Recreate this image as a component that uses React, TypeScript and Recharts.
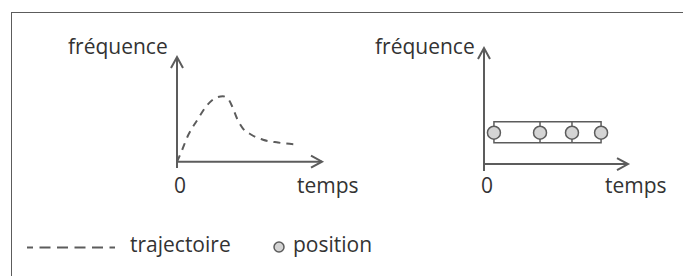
import React from 'react';
import { LineChart, Line, ComposedChart, Scatter, XAxis, YAxis, ReferenceLine, ReferenceArea, ReferenceDot } from 'recharts';

// left panel: trajectory (time vs frequency)
const trajTime = [0, 0.28, 0.76, 1.38, 2.07, 2.62, 3.17, 3.59, 3.86, 4.14, 4.55, 5.1, 5.93, 6.97, 8.34];
const trajFreq = [0, 0.87, 2.5, 3.94, 5.38, 6.06, 6.25, 5.87, 5.1, 4.13, 3.17, 2.6, 2.1, 1.83, 1.63];

// right panel: discrete positions inside a band
const posTime = [0.69, 3.89, 6.11, 8.13];
const posFreq = 2.7;
const bandLow = 1.83;
const bandHigh = 3.65;

const axisLabel = 'fréquence';
const timeLabel = 'temps';
const legendTraj = 'trajectoire';
const legendPos = 'position';

const INK = '#5c5c5c';
const TEXT = '#333';
const FONT = '"Open Sans", sans-serif';
const FS = 21;

const trajData = trajTime.map((t, i) => ({ t, f: trajFreq[i] }));
const posData = posTime.map(t => ({ t, f: posFreq }));

const ArrowRight = (p: any) => (
  <path d={`M${p.cx - 11},${p.cy - 6} L${p.cx},${p.cy} L${p.cx - 11},${p.cy + 6}`} fill="none" stroke={INK} strokeWidth={2} />
);
const ArrowUp = (p: any) => (
  <path d={`M${p.cx - 6},${p.cy + 11} L${p.cx},${p.cy} L${p.cx + 6},${p.cy + 11}`} fill="none" stroke={INK} strokeWidth={2} />
);

const Position = (p: any) => (
  <circle cx={p.cx} cy={p.cy} r={6.5} fill="#d4d4d4" stroke={INK} strokeWidth={1.5} />
);

const tickStyle = { fill: TEXT, fontSize: FS, fontFamily: FONT, dx: 3 };

export default function App() {
  return (
    <div style={{ position: 'absolute', left: 0, top: 0, width: 683, height: 276, background: '#fff', overflow: 'hidden', fontFamily: FONT }}>
      <div style={{ position: 'absolute', left: 11, top: 12, width: 680, height: 280, borderTop: `1.5px solid ${INK}`, borderLeft: `1.5px solid ${INK}` }} />

      <div style={{ position: 'absolute', left: 0, top: 0 }}>
        <LineChart width={341} height={276} data={trajData} margin={{ top: 57, right: 19, bottom: 78, left: 177 }}>
          <XAxis dataKey="t" type="number" domain={[0, 10]} ticks={[0]} axisLine={false} tickLine={false} height={30} tick={tickStyle} tickMargin={4} />
          <YAxis type="number" domain={[-0.6, 10]} hide />
          <ReferenceLine segment={[{ x: 0, y: -0.6 }, { x: 0, y: 10 }]} stroke={INK} strokeWidth={2} />
          <ReferenceLine segment={[{ x: 0, y: 0 }, { x: 10, y: 0 }]} stroke={INK} strokeWidth={2} />
          <ReferenceDot x={10} y={0} r={0} shape={ArrowRight} />
          <ReferenceDot x={0} y={10} r={0} shape={ArrowUp} />
          <Line dataKey="f" type="monotone" stroke={INK} strokeWidth={2} strokeDasharray="7 6" dot={false} isAnimationActive={false} />
        </LineChart>
      </div>

      <div style={{ position: 'absolute', left: 341, top: 0 }}>
        <ComposedChart width={342} height={276} margin={{ top: 48, right: 55, bottom: 75, left: 143 }}>
          <XAxis dataKey="t" type="number" domain={[0, 10]} ticks={[0]} axisLine={false} tickLine={false} height={30} tick={tickStyle} tickMargin={1} />
          <YAxis dataKey="f" type="number" domain={[-0.6, 10]} hide />
          <ReferenceLine segment={[{ x: 0, y: -0.6 }, { x: 0, y: 10 }]} stroke={INK} strokeWidth={2} />
          <ReferenceLine segment={[{ x: 0, y: 0 }, { x: 10, y: 0 }]} stroke={INK} strokeWidth={2} />
          <ReferenceDot x={10} y={0} r={0} shape={ArrowRight} />
          <ReferenceDot x={0} y={10} r={0} shape={ArrowUp} />
          <ReferenceArea x1={posTime[0]} x2={posTime[posTime.length - 1]} y1={bandLow} y2={bandHigh} fill="none" stroke={INK} strokeWidth={1.5} fillOpacity={0} />
          {posTime.slice(1, -1).map(t => (
            <ReferenceLine key={t} segment={[{ x: t, y: bandLow }, { x: t, y: bandHigh }]} stroke={INK} strokeWidth={1.5} />
          ))}
          <Scatter data={posData} dataKey="f" shape={Position} isAnimationActive={false} />
        </ComposedChart>
      </div>

      <svg width={683} height={276} style={{ position: 'absolute', left: 0, top: 0, pointerEvents: 'none' }}>
        <g fill={TEXT} fontSize={FS} fontFamily={FONT}>
          <text x={68} y={54}>{axisLabel}</text>
          <text x={297} y={193}>{timeLabel}</text>
          <text x={375} y={54}>{axisLabel}</text>
          <text x={605} y={193}>{timeLabel}</text>
          <text x={130} y={252}>{legendTraj}</text>
          <text x={293} y={252}>{legendPos}</text>
        </g>
        <line x1={27} y1={247.5} x2={115} y2={247.5} stroke={INK} strokeWidth={2} strokeDasharray="11 6.5" strokeDashoffset={5} />
        <circle cx={279} cy={247} r={5} fill="#d4d4d4" stroke={INK} strokeWidth={1.5} />
      </svg>
    </div>
  );
}
